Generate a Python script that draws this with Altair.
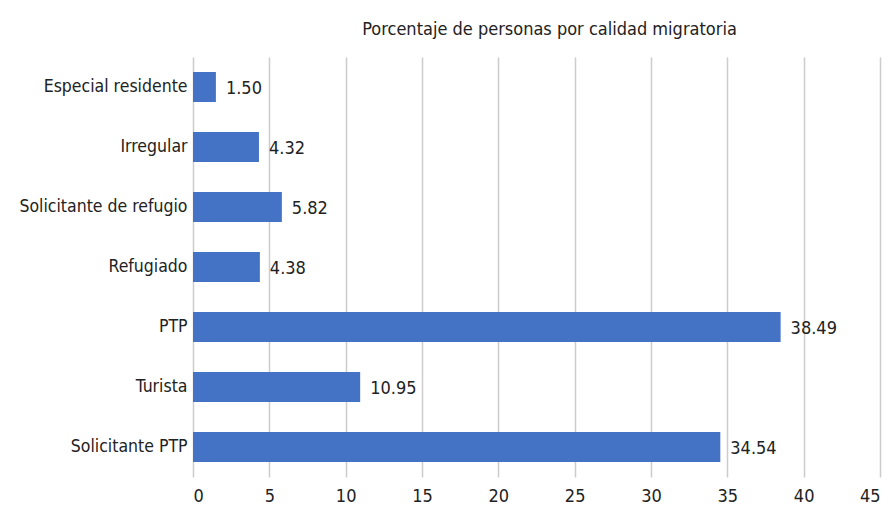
import altair as alt
import pandas as pd

categories = ["Especial residente", "Irregular", "Solicitante de refugio", "Refugiado",
              "PTP", "Turista", "Solicitante PTP"]
values = [1.50, 4.32, 5.82, 4.38, 38.49, 10.95, 34.54]
x_ticks = [0, 5, 10, 15, 20, 25, 30, 35, 40, 45]

df = pd.DataFrame({"cat": categories, "val": values})
df["label"] = df["val"].map(lambda v: f"{v:.2f}")

FONT = "DejaVu Sans Condensed, Roboto, sans-serif"

y_enc = alt.Y("cat:N", sort=categories, title=None,
              scale=alt.Scale(paddingInner=0.5, paddingOuter=0.25),
              axis=alt.Axis(domain=False, ticks=False, labelFontSize=17.5, labelFont=FONT,
                            labelColor="#222222", labelPadding=6, labelLimit=300))
x_enc = alt.X("val:Q", title=None,
              scale=alt.Scale(domain=[0, 45], nice=False),
              axis=alt.Axis(values=x_ticks, domain=False, ticks=False, grid=True,
                            gridColor="#cccccc", gridWidth=1.5, labelFontSize=18,
                            labelFont=FONT, labelColor="#222222", labelPadding=10))

bars = alt.Chart(df).mark_bar(color="#4472C4").encode(x=x_enc, y=y_enc)
text = alt.Chart(df).mark_text(align="left", baseline="middle", dx=10, dy=2,
                                fontSize=18, font=FONT, color="#222222").encode(
    x="val:Q", y=alt.Y("cat:N", sort=categories), text="label:N")

chart = (bars + text).properties(
    width=687, height=420,
    title=alt.TitleParams("Porcentaje de personas por calidad migratoria",
                          fontSize=18, font=FONT, fontWeight="normal", color="#222222",
                          anchor="middle", dx=13, offset=18),
    autosize=alt.AutoSizeParams(type="none"),
    padding={"left": 185, "top": 49, "right": 7, "bottom": 27},
).configure_view(stroke=None)

chart.save("out.html", embed_options={"renderer": "svg", "actions": False})
